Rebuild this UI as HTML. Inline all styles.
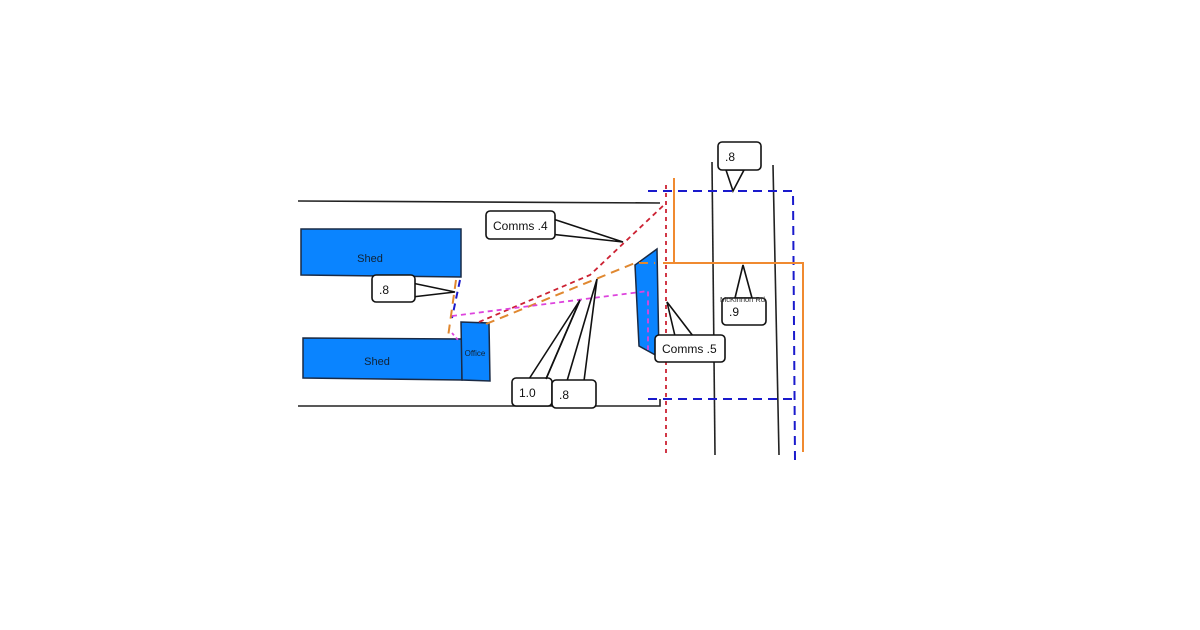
<!DOCTYPE html>
<html><head><meta charset="utf-8"><style>
html,body{margin:0;padding:0;background:#fff;}
svg{display:block;font-family:"Liberation Sans",Arial,sans-serif;}
</style></head><body>
<svg width="1200" height="630" viewBox="0 0 1200 630" xmlns="http://www.w3.org/2000/svg">
<!-- road edges -->
<polyline points="298,201 660,203" fill="none" stroke="#222" stroke-width="1.6"/>
<polyline points="298,406 660,406 660,399" fill="none" stroke="#222" stroke-width="1.6"/>
<line x1="712" y1="162" x2="715" y2="455" stroke="#222" stroke-width="1.6"/>
<line x1="773" y1="165" x2="779" y2="455" stroke="#222" stroke-width="1.6"/>
<!-- buildings -->
<polygon points="301,229 461,229 461,277 301,275" fill="#0a84ff" stroke="#1a2a44" stroke-width="1.5"/>
<polygon points="303,338 462,339 462,380 303,378" fill="#0a84ff" stroke="#1a2a44" stroke-width="1.5"/>
<polygon points="461,322 489,323 490,381 462,380" fill="#0a84ff" stroke="#1a2a44" stroke-width="1.5"/>
<polygon points="635,265 657,249 659,357 639,346" fill="#0a84ff" stroke="#1a2a44" stroke-width="1.5"/>
<text x="370" y="262" font-size="11" fill="#123" text-anchor="middle">Shed</text>
<text x="377" y="365" font-size="11" fill="#123" text-anchor="middle">Shed</text>
<text x="475" y="356" font-size="8" fill="#123" text-anchor="middle">Office</text>
<!-- blue dashed -->
<polyline points="648,191 793,191 795,460" fill="none" stroke="#1a1acc" stroke-width="2" stroke-dasharray="9,6"/>
<polyline points="648,399 795,399" fill="none" stroke="#1a1acc" stroke-width="2" stroke-dasharray="9,6"/>
<line x1="460" y1="280" x2="452" y2="318" stroke="#1a1acc" stroke-width="2" stroke-dasharray="7,5"/>
<!-- red -->
<line x1="666" y1="185" x2="666" y2="455" stroke="#cc2233" stroke-width="1.8" stroke-dasharray="4,4"/>
<polyline points="479,322 590,275 666,203" fill="none" stroke="#cc2233" stroke-width="1.8" stroke-dasharray="5,4"/>
<!-- orange -->
<polyline points="674,178 674,263" fill="none" stroke="#f08a30" stroke-width="2"/>
<polyline points="663,263 803,263 803,452" fill="none" stroke="#f08a30" stroke-width="2"/>
<polyline points="486,324 635,263 655,263" fill="none" stroke="#e08830" stroke-width="2" stroke-dasharray="9,6"/>
<line x1="456" y1="280" x2="448" y2="337" stroke="#e08830" stroke-width="2" stroke-dasharray="9,6"/>
<!-- magenta -->
<polyline points="452,316 648,291 648,350" fill="none" stroke="#dd44dd" stroke-width="1.8" stroke-dasharray="5,4"/>
<line x1="452" y1="333" x2="458" y2="340" stroke="#dd44dd" stroke-width="1.8" stroke-dasharray="3,3"/>
<!-- callouts -->
<g fill="#fff" stroke="#111" stroke-width="1.6">
<polygon points="726,170 733,191 744,170"/>
<rect x="718" y="142" width="43" height="28" rx="4"/>
<polygon points="550,218 623,242 550,234"/>
<rect x="486" y="211" width="69" height="28" rx="4"/>
<polygon points="412,283 455,292 412,297"/>
<rect x="372" y="275" width="43" height="27" rx="4"/>
<polygon points="529,379 580,300 546,379"/>
<rect x="512" y="378" width="40" height="28" rx="4"/>
<polygon points="567,381 597,279 584,381"/>
<polyline points="546,379 580,300" fill="none"/>
<rect x="552" y="380" width="44" height="28" rx="4"/>
<polygon points="735,298 743,265 752,298"/>
<rect x="722" y="298" width="44" height="27" rx="4"/>
<polygon points="675,336 667,302 693,336"/>
<rect x="655" y="335" width="70" height="27" rx="4"/>
</g>
<g font-size="12" fill="#111">
<text x="725" y="161">.8</text>
<text x="493" y="230">Comms .4</text>
<text x="379" y="294">.8</text>
<text x="519" y="397">1.0</text>
<text x="559" y="399">.8</text>
<text x="729" y="316">.9</text>
<text x="662" y="353">Comms .5</text>
</g>
<text x="720" y="302" font-size="7.5" fill="#333">McKinnon Rd</text>
</svg>
</body></html>
